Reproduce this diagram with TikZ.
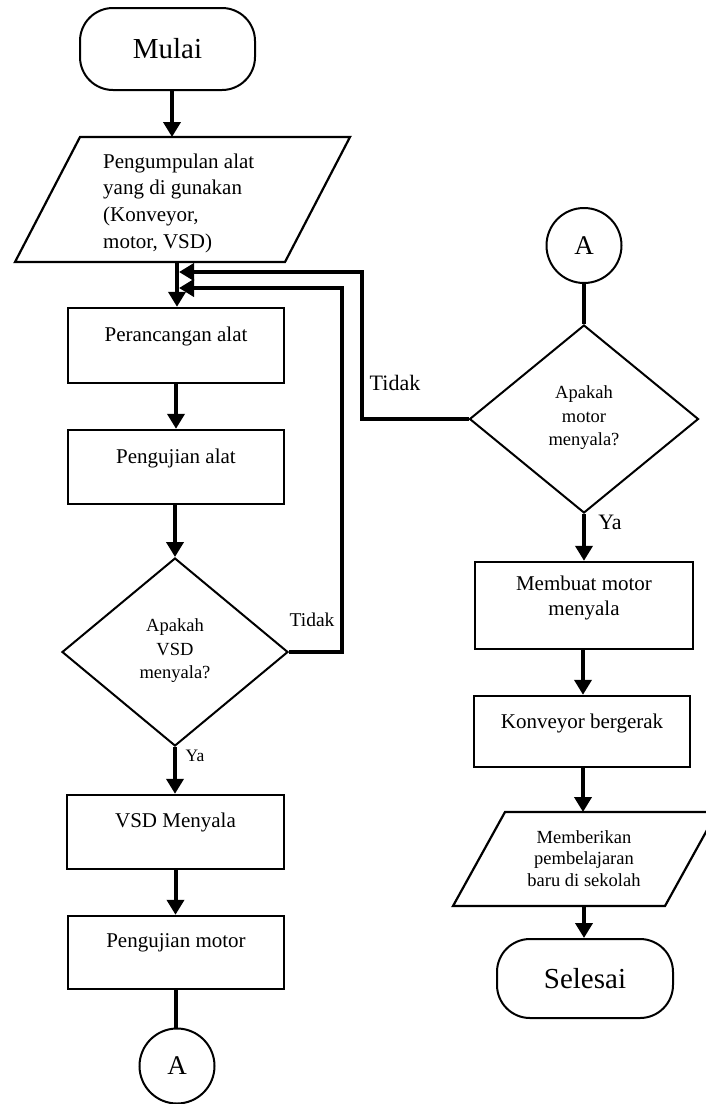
\documentclass[tikz,border=0pt]{standalone}
\usepackage{fontspec}
\setmainfont{Liberation Serif}
\usetikzlibrary{arrows.meta,shapes.geometric}
\begin{document}
\begin{tikzpicture}[x=1pt,y=-1pt,
  boxs/.style={draw,rectangle,line width=2.4pt,inner sep=0pt},
  dia/.style={draw,diamond,line width=2pt,inner sep=0pt},
  conn/.style={draw,circle,line width=2pt,minimum size=75pt,inner sep=0pt,font=\fontsize{27}{30}\selectfont},
  term/.style={draw,rectangle,rounded corners=33pt,line width=2pt,inner sep=0pt,font=\fontsize{29}{34}\selectfont},
  para/.style={line width=2.2pt,line join=miter},
  arr/.style={line width=4pt,-{Triangle[length=15pt,width=17pt]}},
  ln/.style={line width=4pt},
  txt/.style={font=\fontsize{21}{26.7}\selectfont,inner sep=0pt},
  dtxt/.style={font=\fontsize{18.5}{23.5}\selectfont,inner sep=0pt,align=center},
  lbl/.style={inner sep=0pt}
]
\useasboundingbox (0,0) rectangle (706,1104);

% left column
\node[term,minimum width=175pt,minimum height=82pt] (mulai) at (167.5,49) {Mulai};
\draw[para] (80,137) -- (350,137) -- (285,262) -- (15,262) -- cycle;
\coordinate (p1t) at (172,137);
\coordinate (p1b) at (177,262);
\node[txt,anchor=west,align=left] (p1x) at (103,203) {Pengumpulan alat\\yang di gunakan\\(Konveyor,\\motor, VSD)};

\node[boxs,minimum width=216pt,minimum height=75pt] (b1) at (176,345.5) {};
\node[txt] (b1x) at (176,336) {Perancangan alat};
\node[boxs,minimum width=216pt,minimum height=74pt] (b2) at (176,467) {};
\node[txt] (b2x) at (176,458) {Pengujian alat};
\node[dia,minimum width=226pt,minimum height=188pt] (d1) at (175,652) {};
\node[dtxt] (d1x) at (175,651) {Apakah\\VSD\\menyala?};
\node[boxs,minimum width=217pt,minimum height=74pt] (b3) at (175.5,832) {};
\node[txt] (b3x) at (175.5,822) {VSD Menyala};
\node[boxs,minimum width=216pt,minimum height=73pt] (b4) at (176,952.5) {};
\node[txt] (b4x) at (176,943) {Pengujian motor};
\node[conn] (a1) at (177,1066) {A};

% right column
\node[conn] (a2) at (584,245.5) {A};
\node[dia,minimum width=229pt,minimum height=188pt] (d2) at (584,419) {};
\node[dtxt] (d2x) at (584,418) {Apakah\\motor\\menyala?};
\node[boxs,minimum width=218pt,minimum height=87pt] (b5) at (584,605.5) {};
\node[txt,align=center,font=\fontsize{21}{25}\selectfont] (b5x) at (584,597.5) {Membuat motor\\menyala};
\node[boxs,minimum width=216pt,minimum height=71pt] (b6) at (582,731.5) {};
\node[txt] (b6x) at (582,723) {Konveyor bergerak};
\draw[para] (505,812) -- (717,812) -- (665,906) -- (453,906) -- cycle;
\coordinate (p2t) at (583,812);
\coordinate (p2b) at (584,906);
\node[dtxt,font=\fontsize{18.5}{21.5}\selectfont] (p2x) at (584,858.5) {Memberikan\\pembelajaran\\baru di sekolah};
\node[term,minimum width=176pt,minimum height=79pt] (selesai) at (585,978.5) {Selesai};

% connectors left
\draw[arr] (mulai.south -| p1t) -- (p1t);
\draw[arr] (p1b) -- (p1b |- b1.north);
\draw[arr] (b1.south) -- (b1.south |- b2.north);
\draw[arr] (b2.south -| d1.north) -- (d1.north);
\draw[arr] (d1.south) -- (d1.south |- b3.north);
\draw[arr] (b3.south) -- (b3.south |- b4.north);
\draw[ln] (b4.south) -- (b4.south |- a1.north);

% loops
\coordinate (j1) at (179,272);
\coordinate (j2) at (179,288);
\coordinate (c1) at (362,419);
\coordinate (c2) at (362,272);
\coordinate (c3) at (342,652);
\coordinate (c4) at (342,288);
\draw[arr,line join=miter] (d2.west) -- (c1) -- (c2) -- (j1);
\draw[arr,line join=miter] (d1.east) -- (c3) -- (c4) -- (j2);

% connectors right
\draw[ln] (a2.south) -- (a2.south |- d2.north);
\draw[arr] (d2.south) -- (d2.south |- b5.north);
\draw[arr] (b5.south -| p2t) -- (b6.north -| p2t);
\draw[arr] (b6.south -| p2t) -- (p2t);
\draw[arr] (p2b) -- (p2b |- selesai.north);

% labels
\node[lbl,font=\fontsize{22}{26}\selectfont] (t1) at (395,383) {Tidak};
\node[lbl,font=\fontsize{19.5}{23}\selectfont] (t2) at (312,620) {Tidak};
\node[lbl,font=\fontsize{17.5}{21}\selectfont] (y1) at (195,756) {Ya};
\node[lbl,font=\fontsize{22}{26}\selectfont] (y2) at (610,522) {Ya};
\end{tikzpicture}
\end{document}
